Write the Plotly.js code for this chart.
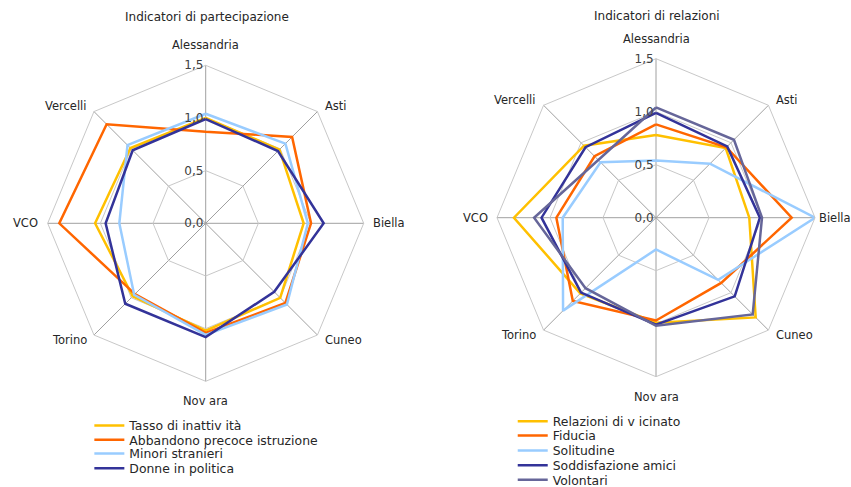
<!DOCTYPE html>
<html>
<head>
<meta charset="utf-8">
<script src="https://cdn.plot.ly/plotly-3.0.1.min.js"></script>
<style>html,body{margin:0;padding:0;background:#fff;}#chart{width:851px;height:487px;}</style>
</head>
<body>
<div id="chart"></div>
<script>
// Categories (provinces), clockwise from top
const categories = ["Alessandria", "Asti", "Biella", "Cuneo", "Nov ara", "Torino", "VCO", "Vercelli"];
const radialTicks = [0, 0.5, 1.0, 1.5];

// Left chart: Indicatori di partecipazione
const titleLeft = "Indicatori di partecipazione";
const namesLeft = ["Tasso di inattiv ità", "Abbandono precoce istruzione", "Minori stranieri", "Donne in politica"];
const tassoInattivita   = [1.00, 0.99, 0.93, 1.00, 1.02, 0.98, 1.05, 1.01];
const abbandonoPrecoce  = [0.87, 1.16, 1.00, 1.07, 1.04, 0.95, 1.39, 1.33];
const minoriStranieri   = [1.04, 1.07, 0.97, 1.09, 1.06, 0.96, 0.82, 1.05];
const donnePolitica     = [0.99, 0.97, 1.12, 0.92, 1.08, 1.08, 0.95, 0.98];

// Right chart: Indicatori di relazioni
const titleRight = "Indicatori di relazioni";
const namesRight = ["Relazioni di v icinato", "Fiducia", "Solitudine", "Soddisfazione amici", "Volontari"];
const relazioniVicinato   = [0.78, 0.93, 0.88, 1.33, 0.99, 1.01, 1.34, 0.96];
const fiducia             = [0.88, 0.94, 1.28, 0.87, 0.97, 1.11, 0.94, 0.82];
const solitudine          = [0.54, 0.72, 1.50, 0.83, 0.30, 1.24, 0.88, 0.74];
const soddisfazioneAmici  = [0.99, 0.95, 0.98, 1.05, 1.01, 1.00, 1.08, 0.94];
const volontari           = [1.04, 1.04, 1.00, 1.29, 1.02, 0.94, 1.15, 0.77];

const colorsLeft  = ["#FFC000", "#FF6600", "#99CCFF", "#333399"];
const colorsRight = ["#FFC000", "#FF6600", "#99CCFF", "#333399", "#666699"];

// category label placement (style): distance from centre in radial units, and text anchor
const labelRadiusLeft  = [1.69, 1.57, 1.57, 1.57, 1.69, 1.57, 1.57, 1.57];
const labelRadiusRight = [1.69, 1.57, 1.52, 1.57, 1.69, 1.57, 1.57, 1.57];
const labelAnchor      = ["center", "left", "left", "left", "center", "right", "right", "right"];

const FONT = "DejaVu Sans, sans-serif";
const W = 851, H = 487, RMAX = 1.5;
const py = px => (H - px) / H;                  // pixel-from-top -> paper y

const close = a => a.concat([a[0]]);
const thetaClosed = close(categories);

// legend slot positions (pixel centre of each entry)
const legendLeftX = 0.105, legendRightX = 0.6025;
const legendLeftY  = [426, 440.3, 454, 468.7];
const legendRightY = [421.7, 436, 451, 465.7, 480.3];

const traces = [];
const layoutLegends = {};
let li = 1;
function legendKey(n) { return n === 1 ? "legend" : "legend" + n; }
function addLegend(x, ypx) {
  const key = legendKey(li++);
  layoutLegends[key] = {x: x, y: py(ypx), xanchor: "left", yanchor: "middle",
    font: {family: FONT, size: 12.4, color: "#262626"}, bgcolor: "rgba(0,0,0,0)", borderwidth: 0};
  return key;
}

[tassoInattivita, abbandonoPrecoce, minoriStranieri, donnePolitica].forEach((s, i) => {
  traces.push({type: "scatterpolar", mode: "lines", r: close(s), theta: thetaClosed,
    name: namesLeft[i], subplot: "polar", legend: addLegend(legendLeftX, legendLeftY[i]),
    line: {color: colorsLeft[i], width: 2.5}, hoverinfo: "skip"});
});
[relazioniVicinato, fiducia, solitudine, soddisfazioneAmici, volontari].forEach((s, i) => {
  traces.push({type: "scatterpolar", mode: "lines", r: close(s), theta: thetaClosed,
    name: namesRight[i], subplot: "polar2", legend: addLegend(legendRightX, legendRightY[i]),
    line: {color: colorsRight[i], width: 2.5}, hoverinfo: "skip"});
});

function polarCfg(dx, dy) {
  return {
    domain: {x: dx, y: dy},
    bgcolor: "rgba(0,0,0,0)",
    gridshape: "linear",
    radialaxis: {range: [0, RMAX], tickvals: radialTicks, tickformat: ".1f", angle: 90, tickangle: 90,
      side: "counterclockwise", showline: false, ticks: "", gridcolor: "#C8C8C8", gridwidth: 1,
      tickfont: {family: FONT, size: 12, color: "#404040"}},
    angularaxis: {direction: "clockwise", rotation: 90, type: "category", categoryarray: categories,
      showline: true, linecolor: "#C8C8C8", linewidth: 1, gridcolor: "#A0A0A0", ticks: "",
      showticklabels: false}
  };
}

// polar geometry: centre / radius in pixels
const geomL = {cx: 205.7, cy: 223.3, R: 158};
const geomR = {cx: 656, cy: 217.7, R: 159};
function dom(g) {
  return {x: [(g.cx - g.R) / W, (g.cx + g.R) / W], y: [py(g.cy + g.R), py(g.cy - g.R)]};
}
const dL = dom(geomL), dR = dom(geomR);

// category labels placed around each radar (clockwise from the top)
function categoryLabels(g, radii) {
  return categories.map((c, i) => {
    const a = (90 - 360 / categories.length * i) * Math.PI / 180;
    const rp = g.R * radii[i] / RMAX;
    return {text: c, x: (g.cx + rp * Math.cos(a)) / W, y: py(g.cy - rp * Math.sin(a)),
      xref: "paper", yref: "paper", showarrow: false, xanchor: labelAnchor[i], yanchor: "middle",
      font: {family: FONT, size: 11.5, color: "#262626"}};
  });
}

const layout = Object.assign({
  width: W, height: H,
  margin: {l: 0, r: 0, t: 0, b: 0, autoexpand: false},
  paper_bgcolor: "#fff",
  separators: ",.",
  font: {family: FONT, size: 12, color: "#262626"},
  polar: polarCfg(dL.x, dL.y),
  polar2: polarCfg(dR.x, dR.y),
  annotations: [
    {text: titleLeft, x: 207 / W, y: py(17), xref: "paper", yref: "paper", showarrow: false,
      xanchor: "center", yanchor: "middle", font: {family: FONT, size: 12, color: "#262626"}},
    {text: titleRight, x: 657 / W, y: py(16), xref: "paper", yref: "paper", showarrow: false,
      xanchor: "center", yanchor: "middle", font: {family: FONT, size: 12, color: "#262626"}}
  ].concat(categoryLabels(geomL, labelRadiusLeft), categoryLabels(geomR, labelRadiusRight)),
  showlegend: true
}, layoutLegends);

Plotly.newPlot("chart", traces, layout, {displayModeBar: false, staticPlot: true});
</script>
</body>
</html>
